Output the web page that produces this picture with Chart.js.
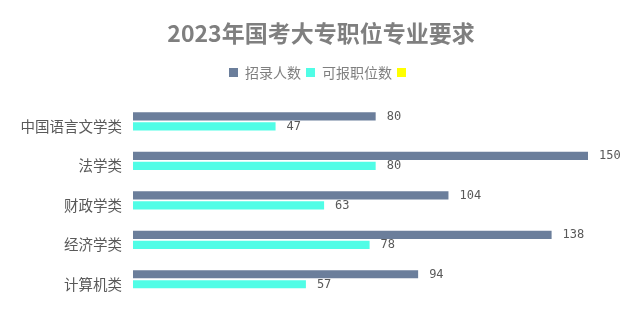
<!DOCTYPE html>
<html><head><meta charset="utf-8">
<script src="https://cdn.jsdelivr.net/npm/chart.js@4"></script>
<style>html,body{margin:0;padding:0;background:#fff}#wrap{width:642px;height:330px}</style>
</head><body><div id="wrap"><canvas id="c" width="642" height="330"></canvas></div>
<script>
const categories = ["中国语言文学类","法学类","财政学类","经济学类","计算机类"];
const recruits = [80,150,104,138,94];
const positions = [47,80,63,78,57];
const extra = [null,null,null,null,null];
const seriesNames = ["招录人数","可报职位数",""];

const valueLabels = {
  id:'valueLabels',
  afterDatasetsDraw(chart){
    const ctx = chart.ctx;
    ctx.save();
    ctx.font = '12px "DejaVu Sans Mono", monospace';
    ctx.fillStyle = '#595959';
    ctx.textBaseline = 'middle';
    ctx.textAlign = 'left';
    chart.data.datasets.forEach((ds,i)=>{
      const meta = chart.getDatasetMeta(i);
      meta.data.forEach((bar,j)=>{
        const v = ds.data[j];
        if(v==null) return;
        ctx.fillText(String(v), bar.x + 11, bar.y + 0.5);
      });
    });
    ctx.restore();
  }
};

new Chart(document.getElementById('c'),{
  type:'bar',
  data:{
    labels:categories,
    datasets:[
      {label:seriesNames[0],data:recruits,backgroundColor:'#6b7e9b'},
      {label:seriesNames[1],data:positions,backgroundColor:'#50fde6'},
      {label:seriesNames[2],data:extra,backgroundColor:'#ffff00'}
    ]
  },
  options:{
    indexAxis:'y',
    responsive:false,
    animation:false,
    categoryPercentage:0.76,
    barPercentage:0.82,
    layout:{padding:{left:0,right:0,top:0,bottom:26}},
    plugins:{
      title:{display:true,text:'2023年国考大专职位专业要求',color:'#7f7f7f',
        font:{family:'"Noto Sans CJK SC", sans-serif',size:23,weight:'bold'},padding:{top:19,bottom:14}},
      legend:{display:true,labels:{color:'#7f7f7f',boxWidth:9,boxHeight:9,padding:5,
        font:{family:'"Noto Sans CJK SC", sans-serif',size:14}}},
      tooltip:{enabled:false}
    },
    scales:{
      x:{display:true,position:'top',min:0,max:150,grid:{display:false},border:{display:false},
        ticks:{display:false},afterFit(s){s.height=17;}},
      y:{grid:{display:false,drawTicks:false},border:{display:false},
        ticks:{color:'#595959',padding:11,font:{family:'"Noto Sans CJK SC", sans-serif',size:14.5}},
        afterFit(s){s.width=133;}},
      y2:{position:'right',display:true,grid:{display:false},border:{display:false},
        ticks:{display:false},afterFit(s){s.width=54;}}
    }
  },
  plugins:[valueLabels]
});
</script></body></html>
